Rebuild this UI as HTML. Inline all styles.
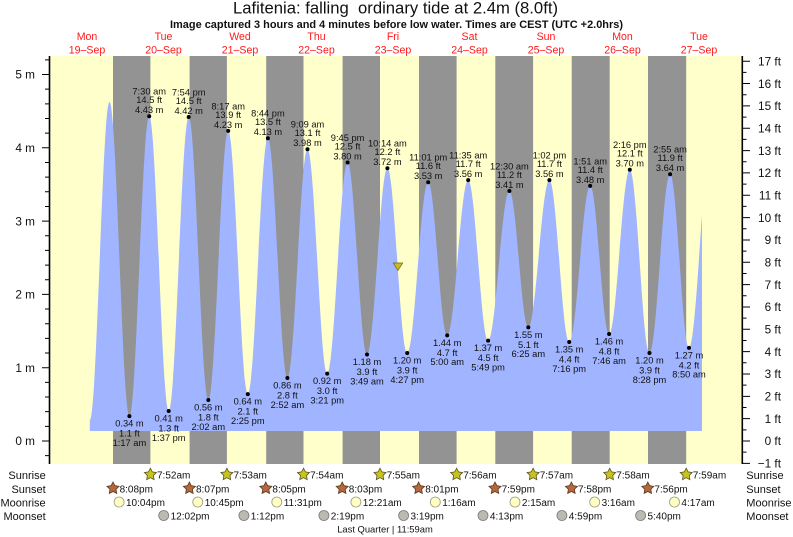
<!DOCTYPE html>
<html><head><meta charset="utf-8"><style>
html,body{margin:0;padding:0;background:#fff;}
svg{display:block;font-family:"Liberation Sans",Arial,sans-serif;}
.lb{font-size:9.3px;fill:#111;text-anchor:middle;}
.dy{font-size:10.6px;fill:#ff1a1a;text-anchor:middle;}
.ax{font-size:11.8px;fill:#111;}
.rw{font-size:11px;fill:#111;}
.ev{font-size:10px;fill:#111;}
</style></head><body>
<svg width="793" height="537" viewBox="0 0 793 537" xmlns="http://www.w3.org/2000/svg">
<defs>
<polygon id="star" points="0,-6.3 1.9,-2.6 6,-1.95 3.05,0.95 3.7,5.1 0,3.2 -3.7,5.1 -3.05,0.95 -6,-1.95 -1.9,-2.6"/>
</defs>
<rect x="0" y="0" width="793" height="537" fill="#fff"/>
<!-- title -->
<text x="395.5" y="13.5" font-size="16.5" text-anchor="middle" fill="#111" textLength="325" lengthAdjust="spacingAndGlyphs" style="white-space:pre">Lafitenia: falling  ordinary tide at 2.4m (8.0ft)</text>
<text x="396.5" y="28" font-size="11" font-weight="bold" text-anchor="middle" fill="#111" textLength="453" lengthAdjust="spacingAndGlyphs">Image captured 3 hours and 4 minutes before low water. Times are CEST (UTC +2.0hrs)</text>
<!-- day labels -->
<g class="dy">
<text x="87" y="39.8">Mon</text><text x="87" y="53.3">19–Sep</text>
<text x="163.5" y="39.8">Tue</text><text x="163.5" y="53.3">20–Sep</text>
<text x="240" y="39.8">Wed</text><text x="240" y="53.3">21–Sep</text>
<text x="316.5" y="39.8">Thu</text><text x="316.5" y="53.3">22–Sep</text>
<text x="393" y="39.8">Fri</text><text x="393" y="53.3">23–Sep</text>
<text x="469.5" y="39.8">Sat</text><text x="469.5" y="53.3">24–Sep</text>
<text x="546" y="39.8">Sun</text><text x="546" y="53.3">25–Sep</text>
<text x="622.5" y="39.8">Mon</text><text x="622.5" y="53.3">26–Sep</text>
<text x="699" y="39.8">Tue</text><text x="699" y="53.3">27–Sep</text>
</g>
<!-- plot background -->
<rect x="50" y="56" width="692" height="408" fill="#ffffcc"/>
<g fill="#939393">
<rect x="113" y="56" width="37.4" height="408"/>
<rect x="189.6" y="56" width="37.3" height="408"/>
<rect x="266.2" y="56" width="37.3" height="408"/>
<rect x="342.6" y="56" width="37.4" height="408"/>
<rect x="419" y="56" width="37.6" height="408"/>
<rect x="495.3" y="56" width="37.8" height="408"/>
<rect x="571.7" y="56" width="38" height="408"/>
<rect x="648" y="56" width="38.2" height="408"/>
</g>
<!-- tide -->
<path fill="#a0b4ff" d="M89.8,431 L89.8,420
C96.97,420 102.33,102 109.5,102
C116.74,102 122.16,416.1 129.4,416.1
C136.61,416.1 141.99,116.3 149.2,116.3
C156.3,116.3 161.6,411 168.7,411
C175.98,411 181.42,117 188.7,117
C195.83,117 201.17,400 208.3,400
C215.54,400 220.96,130.9 228.2,130.9
C235.33,130.9 240.67,394.1 247.8,394.1
C255.12,394.1 260.58,138.3 267.9,138.3
C275,138.3 280.3,378 287.4,378
C294.72,378 300.18,149.3 307.5,149.3
C314.67,149.3 320.03,373.6 327.2,373.6
C334.63,373.6 340.17,162.5 347.6,162.5
C354.66,162.5 359.94,354.5 367,354.5
C374.43,354.5 379.97,168.3 387.4,168.3
C394.61,168.3 399.99,353 407.2,353
C414.84,353 420.56,182.3 428.2,182.3
C435.12,182.3 440.28,335.4 447.2,335.4
C454.84,335.4 460.56,180.1 468.2,180.1
C475.44,180.1 480.86,340.6 488.1,340.6
C495.85,340.6 501.65,191 509.4,191
C516.28,191 521.42,327.4 528.3,327.4
C535.98,327.4 541.72,180.1 549.4,180.1
C556.61,180.1 561.99,342 569.2,342
C576.84,342 582.56,185.9 590.2,185.9
C597.08,185.9 602.22,334 609.1,334
C616.63,334 622.27,169.8 629.8,169.8
C636.97,169.8 642.33,353 649.5,353
C657,353 662.6,174.2 670.1,174.2
C676.98,174.2 682.12,347.9 689,347.9
C694,347.9 698.5,262 702,215
L702,431 Z"/>
<!-- dots -->
<g fill="#000">
<circle cx="149.2" cy="116.3" r="2"/><circle cx="188.7" cy="117" r="2"/><circle cx="228.2" cy="130.9" r="2"/><circle cx="267.9" cy="138.3" r="2"/><circle cx="307.5" cy="149.3" r="2"/><circle cx="347.6" cy="162.5" r="2"/><circle cx="387.4" cy="168.3" r="2"/><circle cx="428.2" cy="182.3" r="2"/><circle cx="468.2" cy="180.1" r="2"/><circle cx="509.4" cy="191" r="2"/><circle cx="549.4" cy="180.1" r="2"/><circle cx="590.2" cy="185.9" r="2"/><circle cx="629.8" cy="169.8" r="2"/><circle cx="670.1" cy="174.2" r="2"/>
<circle cx="129.4" cy="416.1" r="2"/><circle cx="168.7" cy="411" r="2"/><circle cx="208.3" cy="400" r="2"/><circle cx="247.8" cy="394.1" r="2"/><circle cx="287.4" cy="378" r="2"/><circle cx="327.2" cy="373.6" r="2"/><circle cx="367" cy="354.5" r="2"/><circle cx="407.2" cy="353" r="2"/><circle cx="447.2" cy="335.4" r="2"/><circle cx="488.1" cy="340.6" r="2"/><circle cx="528.3" cy="327.4" r="2"/><circle cx="569.2" cy="342" r="2"/><circle cx="609.1" cy="334" r="2"/><circle cx="649.5" cy="353" r="2"/><circle cx="689" cy="347.9" r="2"/>
</g>
<!-- high labels -->
<g class="lb">
<text x="149.2" y="94.7">7:30 am</text><text x="149.2" y="103.2">14.5 ft</text><text x="149.2" y="113.2">4.43 m</text>
<text x="188.7" y="95.4">7:54 pm</text><text x="188.7" y="103.9">14.5 ft</text><text x="188.7" y="113.9">4.42 m</text>
<text x="228.2" y="109.3">8:17 am</text><text x="228.2" y="117.8">13.9 ft</text><text x="228.2" y="127.8">4.23 m</text>
<text x="267.9" y="116.7">8:44 pm</text><text x="267.9" y="125.2">13.5 ft</text><text x="267.9" y="135.2">4.13 m</text>
<text x="307.5" y="127.7">9:09 am</text><text x="307.5" y="136.2">13.1 ft</text><text x="307.5" y="146.2">3.98 m</text>
<text x="347.6" y="140.9">9:45 pm</text><text x="347.6" y="149.4">12.5 ft</text><text x="347.6" y="159.4">3.80 m</text>
<text x="387.4" y="146.7">10:14 am</text><text x="387.4" y="155.2">12.2 ft</text><text x="387.4" y="165.2">3.72 m</text>
<text x="428.2" y="160.7">11:01 pm</text><text x="428.2" y="169.2">11.6 ft</text><text x="428.2" y="179.2">3.53 m</text>
<text x="468.2" y="158.5">11:35 am</text><text x="468.2" y="167">11.7 ft</text><text x="468.2" y="177">3.56 m</text>
<text x="509.4" y="169.4">12:30 am</text><text x="509.4" y="177.9">11.2 ft</text><text x="509.4" y="187.9">3.41 m</text>
<text x="549.4" y="158.5">1:02 pm</text><text x="549.4" y="167">11.7 ft</text><text x="549.4" y="177">3.56 m</text>
<text x="590.2" y="164.3">1:51 am</text><text x="590.2" y="172.8">11.4 ft</text><text x="590.2" y="182.8">3.48 m</text>
<text x="629.8" y="148.2">2:16 pm</text><text x="629.8" y="156.7">12.1 ft</text><text x="629.8" y="166.7">3.70 m</text>
<text x="670.1" y="152.6">2:55 am</text><text x="670.1" y="161.1">11.9 ft</text><text x="670.1" y="171.1">3.64 m</text>
</g>
<!-- low labels -->
<g class="lb">
<text x="129.4" y="426.7">0.34 m</text><text x="129.4" y="436.5">1.1 ft</text><text x="129.4" y="445.9">1:17 am</text>
<text x="168.7" y="421.6">0.41 m</text><text x="168.7" y="431.4">1.3 ft</text><text x="168.7" y="440.8">1:37 pm</text>
<text x="208.3" y="410.6">0.56 m</text><text x="208.3" y="420.4">1.8 ft</text><text x="208.3" y="429.8">2:02 am</text>
<text x="247.8" y="404.7">0.64 m</text><text x="247.8" y="414.5">2.1 ft</text><text x="247.8" y="423.9">2:25 pm</text>
<text x="287.4" y="388.6">0.86 m</text><text x="287.4" y="398.4">2.8 ft</text><text x="287.4" y="407.8">2:52 am</text>
<text x="327.2" y="384.2">0.92 m</text><text x="327.2" y="394">3.0 ft</text><text x="327.2" y="403.4">3:21 pm</text>
<text x="367" y="365.1">1.18 m</text><text x="367" y="374.9">3.9 ft</text><text x="367" y="384.3">3:49 am</text>
<text x="407.2" y="363.6">1.20 m</text><text x="407.2" y="373.4">3.9 ft</text><text x="407.2" y="382.8">4:27 pm</text>
<text x="447.2" y="346">1.44 m</text><text x="447.2" y="355.8">4.7 ft</text><text x="447.2" y="365.2">5:00 am</text>
<text x="488.1" y="351.2">1.37 m</text><text x="488.1" y="361">4.5 ft</text><text x="488.1" y="370.4">5:49 pm</text>
<text x="528.3" y="338">1.55 m</text><text x="528.3" y="347.8">5.1 ft</text><text x="528.3" y="357.2">6:25 am</text>
<text x="569.2" y="352.6">1.35 m</text><text x="569.2" y="362.4">4.4 ft</text><text x="569.2" y="371.8">7:16 pm</text>
<text x="609.1" y="344.6">1.46 m</text><text x="609.1" y="354.4">4.8 ft</text><text x="609.1" y="363.8">7:46 am</text>
<text x="649.5" y="363.6">1.20 m</text><text x="649.5" y="373.4">3.9 ft</text><text x="649.5" y="382.8">8:28 pm</text>
<text x="689" y="358.5">1.27 m</text><text x="689" y="368.3">4.2 ft</text><text x="689" y="377.7">8:50 am</text>
</g>
<!-- current marker -->
<polygon points="393.3,263 402.7,263 398,270.5" fill="#c9bd1c" stroke="#6a6410" stroke-width="0.7"/>
<!-- axes -->
<g stroke="#000" fill="none">
<line x1="49.5" y1="56" x2="49.5" y2="464" stroke-width="1.6"/>
<line x1="742.3" y1="56" x2="742.3" y2="464" stroke-width="1.6"/>
<path stroke-width="1" d="M42,441h7.5M42,367.7h7.5M42,294.4h7.5M42,221.1h7.5M42,147.8h7.5M42,74.5h7.5"/>
<path stroke-width="1" d="M45,455.66h4.5M45,426.34h4.5M45,411.68h4.5M45,397.02h4.5M45,382.36h4.5M45,353.04h4.5M45,338.38h4.5M45,323.72h4.5M45,309.06h4.5M45,279.74h4.5M45,265.08h4.5M45,250.42h4.5M45,235.76h4.5M45,206.44h4.5M45,191.78h4.5M45,177.12h4.5M45,162.46h4.5M45,133.14h4.5M45,118.48h4.5M45,103.82h4.5M45,89.16h4.5M45,59.84h4.5"/>
<path stroke-width="1" d="M742,463.34h8M742,441h8M742,418.66h8M742,396.32h8M742,373.98h8M742,351.64h8M742,329.3h8M742,306.96h8M742,284.62h8M742,262.28h8M742,239.94h8M742,217.6h8M742,195.26h8M742,172.92h8M742,150.58h8M742,128.24h8M742,105.9h8M742,83.56h8M742,61.22h8"/>
<path stroke-width="1" d="M742,452.17h4.5M742,429.83h4.5M742,407.49h4.5M742,385.15h4.5M742,362.81h4.5M742,340.47h4.5M742,318.13h4.5M742,295.79h4.5M742,273.45h4.5M742,251.11h4.5M742,228.77h4.5M742,206.43h4.5M742,184.09h4.5M742,161.75h4.5M742,139.41h4.5M742,117.07h4.5M742,94.73h4.5M742,72.39h4.5"/>
</g>
<g class="ax" text-anchor="end">
<text x="35" y="445.2">0 m</text><text x="35" y="371.9">1 m</text><text x="35" y="298.6">2 m</text><text x="35" y="225.3">3 m</text><text x="35" y="152">4 m</text><text x="35" y="78.7">5 m</text>
</g>
<g class="ax" text-anchor="end">
<text x="781" y="467.5">−1 ft</text><text x="781" y="445.2">0 ft</text><text x="781" y="422.9">1 ft</text><text x="781" y="400.5">2 ft</text><text x="781" y="378.2">3 ft</text><text x="781" y="355.8">4 ft</text><text x="781" y="333.5">5 ft</text><text x="781" y="311.2">6 ft</text><text x="781" y="288.8">7 ft</text><text x="781" y="266.5">8 ft</text><text x="781" y="244.1">9 ft</text><text x="781" y="221.8">10 ft</text><text x="781" y="199.5">11 ft</text><text x="781" y="177.1">12 ft</text><text x="781" y="154.8">13 ft</text><text x="781" y="132.4">14 ft</text><text x="781" y="110.1">15 ft</text><text x="781" y="87.8">16 ft</text><text x="781" y="65.4">17 ft</text>
</g>
<!-- bottom rows labels -->
<g class="rw" text-anchor="end">
<text x="45.7" y="479">Sunrise</text><text x="45.7" y="492.8">Sunset</text><text x="45.7" y="506.3">Moonrise</text><text x="45.7" y="520">Moonset</text>
</g>
<g class="rw">
<text x="746.3" y="479">Sunrise</text><text x="746.3" y="492.8">Sunset</text><text x="746.3" y="506.3">Moonrise</text><text x="746.3" y="520">Moonset</text>
</g>
<!-- sunrise -->
<g fill="#c8c31e" stroke="#5a5520" stroke-width="0.8">
<use href="#star" x="150.4" y="474.5"/><use href="#star" x="226.9" y="474.5"/><use href="#star" x="303.5" y="474.5"/><use href="#star" x="380" y="474.5"/><use href="#star" x="456.6" y="474.5"/><use href="#star" x="533.1" y="474.5"/><use href="#star" x="609.7" y="474.5"/><use href="#star" x="686.2" y="474.5"/>
</g>
<g class="ev">
<text x="157" y="478.6">7:52am</text><text x="233.5" y="478.6">7:53am</text><text x="310.1" y="478.6">7:54am</text><text x="386.6" y="478.6">7:55am</text><text x="463.2" y="478.6">7:56am</text><text x="539.7" y="478.6">7:57am</text><text x="616.3" y="478.6">7:58am</text><text x="692.8" y="478.6">7:59am</text>
</g>
<!-- sunset -->
<g fill="#b3693d" stroke="#5a3820" stroke-width="0.8">
<use href="#star" x="113" y="488.3"/><use href="#star" x="189.4" y="488.3"/><use href="#star" x="265.8" y="488.3"/><use href="#star" x="342.2" y="488.3"/><use href="#star" x="418.6" y="488.3"/><use href="#star" x="495" y="488.3"/><use href="#star" x="571.4" y="488.3"/><use href="#star" x="647.8" y="488.3"/>
</g>
<g class="ev">
<text x="119.6" y="492.4">8:08pm</text><text x="196" y="492.4">8:07pm</text><text x="272.4" y="492.4">8:05pm</text><text x="348.8" y="492.4">8:03pm</text><text x="425.2" y="492.4">8:01pm</text><text x="501.6" y="492.4">7:59pm</text><text x="578" y="492.4">7:58pm</text><text x="654.4" y="492.4">7:56pm</text>
</g>
<!-- moonrise -->
<g fill="#ffffc4" stroke="#9a9a80" stroke-width="0.8">
<circle cx="119.1" cy="502" r="5"/><circle cx="197.8" cy="502" r="5"/><circle cx="276.8" cy="502" r="5"/><circle cx="355.9" cy="502" r="5"/><circle cx="435.3" cy="502" r="5"/><circle cx="515" cy="502" r="5"/><circle cx="594.7" cy="502" r="5"/><circle cx="674.5" cy="502" r="5"/>
</g>
<g class="ev">
<text x="126" y="506">10:04pm</text><text x="204.7" y="506">10:45pm</text><text x="283.7" y="506">11:31pm</text><text x="362.8" y="506">12:21am</text><text x="442.2" y="506">1:16am</text><text x="521.9" y="506">2:15am</text><text x="601.6" y="506">3:16am</text><text x="681.4" y="506">4:17am</text>
</g>
<!-- moonset -->
<g fill="#bcb9b3" stroke="#7a7a76" stroke-width="0.8">
<circle cx="163.7" cy="515.5" r="5"/><circle cx="243.9" cy="515.5" r="5"/><circle cx="323.9" cy="515.5" r="5"/><circle cx="403.6" cy="515.5" r="5"/><circle cx="483" cy="515.5" r="5"/><circle cx="561.9" cy="515.5" r="5"/><circle cx="640.6" cy="515.5" r="5"/>
</g>
<g class="ev">
<text x="170.6" y="519.5">12:02pm</text><text x="250.8" y="519.5">1:12pm</text><text x="330.8" y="519.5">2:19pm</text><text x="410.5" y="519.5">3:19pm</text><text x="489.9" y="519.5">4:13pm</text><text x="568.8" y="519.5">4:59pm</text><text x="647.5" y="519.5">5:40pm</text>
</g>
<text x="385" y="532.6" font-size="9.4" text-anchor="middle" fill="#111">Last Quarter | 11:59am</text>
</svg>
</body></html>
